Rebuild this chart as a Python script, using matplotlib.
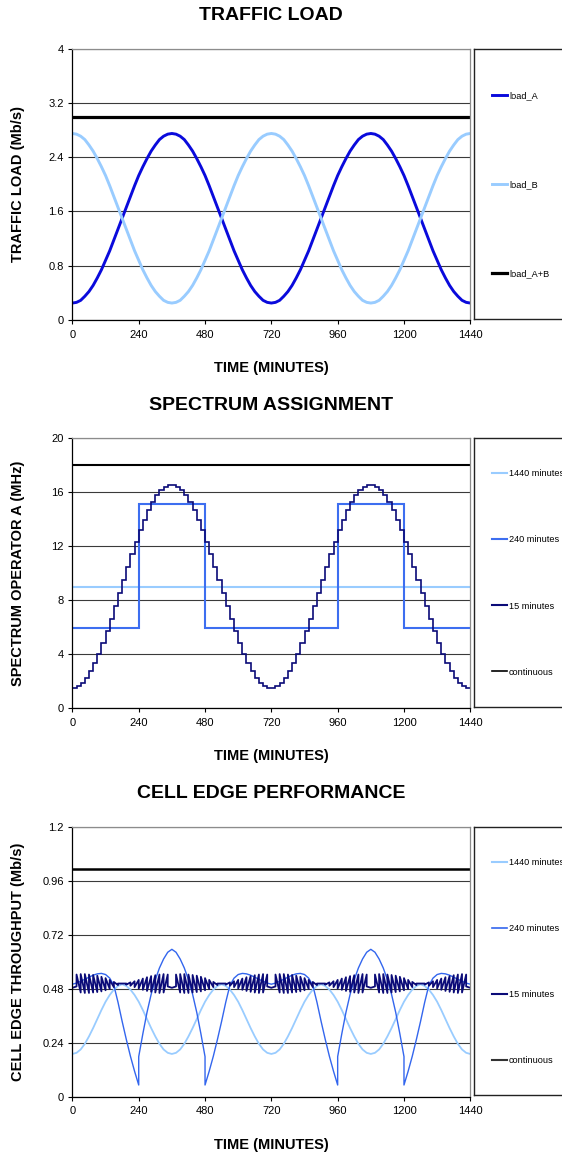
import numpy as np
import matplotlib
matplotlib.use('Agg')
import matplotlib.pyplot as plt
from matplotlib.lines import Line2D

plt.rcParams['font.family'] = ['Liberation Sans', 'DejaVu Sans']

# ---------------- data ----------------
t_15 = np.arange(0, 1441, 15)          # 15 minute grid (97 points)
x_ticks = [0, 240, 480, 720, 960, 1200, 1440]

# traffic load (Mb/s), every 15 min
load_A = [0.25, 0.26, 0.29, 0.35, 0.42, 0.51, 0.62, 0.74, 0.88, 1.02, 1.18, 1.34, 1.50,
          1.66, 1.82, 1.98, 2.13, 2.26, 2.38, 2.49, 2.58, 2.66, 2.71, 2.74, 2.75,
          2.74, 2.71, 2.66, 2.58, 2.49, 2.38, 2.26, 2.13, 1.98, 1.82, 1.66, 1.50,
          1.34, 1.18, 1.02, 0.88, 0.74, 0.62, 0.51, 0.42, 0.35, 0.29, 0.26, 0.25,
          0.26, 0.29, 0.35, 0.42, 0.51, 0.62, 0.74, 0.88, 1.02, 1.18, 1.34, 1.50,
          1.66, 1.82, 1.98, 2.13, 2.26, 2.38, 2.49, 2.58, 2.66, 2.71, 2.74, 2.75,
          2.74, 2.71, 2.66, 2.58, 2.49, 2.38, 2.26, 2.13, 1.98, 1.82, 1.66, 1.50,
          1.34, 1.18, 1.02, 0.88, 0.74, 0.62, 0.51, 0.42, 0.35, 0.29, 0.26, 0.25]
load_B = [2.75, 2.74, 2.71, 2.66, 2.58, 2.49, 2.38, 2.26, 2.13, 1.98, 1.82, 1.66, 1.50,
          1.34, 1.18, 1.02, 0.88, 0.74, 0.62, 0.51, 0.42, 0.35, 0.29, 0.26, 0.25,
          0.26, 0.29, 0.35, 0.42, 0.51, 0.62, 0.74, 0.88, 1.02, 1.18, 1.34, 1.50,
          1.66, 1.82, 1.98, 2.13, 2.26, 2.38, 2.49, 2.58, 2.66, 2.71, 2.74, 2.75,
          2.74, 2.71, 2.66, 2.58, 2.49, 2.38, 2.26, 2.13, 1.98, 1.82, 1.66, 1.50,
          1.34, 1.18, 1.02, 0.88, 0.74, 0.62, 0.51, 0.42, 0.35, 0.29, 0.26, 0.25,
          0.26, 0.29, 0.35, 0.42, 0.51, 0.62, 0.74, 0.88, 1.02, 1.18, 1.34, 1.50,
          1.66, 1.82, 1.98, 2.13, 2.26, 2.38, 2.49, 2.58, 2.66, 2.71, 2.74, 2.75]
load_AB = [3.0, 3.0]
t_ends = [0, 1440]

# spectrum operator A (MHz)
spec_15 = [1.52, 1.64, 1.90, 2.27, 2.76, 3.36, 4.05, 4.83, 5.68, 6.59, 7.54, 8.51,
           9.49, 10.46, 11.41, 12.32, 13.17, 13.95, 14.64, 15.24, 15.73, 16.10, 16.36, 16.48,
           16.48, 16.36, 16.10, 15.73, 15.24, 14.64, 13.95, 13.17, 12.32, 11.41, 10.46, 9.49,
           8.51, 7.54, 6.59, 5.68, 4.83, 4.05, 3.36, 2.76, 2.27, 1.90, 1.64, 1.52,
           1.52, 1.64, 1.90, 2.27, 2.76, 3.36, 4.05, 4.83, 5.68, 6.59, 7.54, 8.51,
           9.49, 10.46, 11.41, 12.32, 13.17, 13.95, 14.64, 15.24, 15.73, 16.10, 16.36, 16.48,
           16.48, 16.36, 16.10, 15.73, 15.24, 14.64, 13.95, 13.17, 12.32, 11.41, 10.46, 9.49,
           8.51, 7.54, 6.59, 5.68, 4.83, 4.05, 3.36, 2.76, 2.27, 1.90, 1.64, 1.52]
edges_240 = [0, 240, 480, 720, 960, 1200, 1440]
spec_240 = [5.95, 15.1, 5.95, 5.95, 15.1, 5.95]
spec_1440 = [9.0]
spec_cont = [18.0]

# cell edge throughput (Mb/s)
cell_1440 = [0.19, 0.195, 0.21, 0.235, 0.268, 0.305, 0.345, 0.385, 0.422, 0.452, 0.476, 0.492, 0.50,
             0.492, 0.476, 0.452, 0.422, 0.385, 0.345, 0.305, 0.268, 0.235, 0.21, 0.195, 0.19,
             0.195, 0.21, 0.235, 0.268, 0.305, 0.345, 0.385, 0.422, 0.452, 0.476, 0.492, 0.50,
             0.492, 0.476, 0.452, 0.422, 0.385, 0.345, 0.305, 0.268, 0.235, 0.21, 0.195, 0.19,
             0.195, 0.21, 0.235, 0.268, 0.305, 0.345, 0.385, 0.422, 0.452, 0.476, 0.492, 0.50,
             0.492, 0.476, 0.452, 0.422, 0.385, 0.345, 0.305, 0.268, 0.235, 0.21, 0.195, 0.19,
             0.195, 0.21, 0.235, 0.268, 0.305, 0.345, 0.385, 0.422, 0.452, 0.476, 0.492, 0.50,
             0.492, 0.476, 0.452, 0.422, 0.385, 0.345, 0.305, 0.268, 0.235, 0.21, 0.195, 0.19]

# 240 minute curve jumps at the reassignment instants
t_240 = sorted(list(range(0, 1441, 15)) + [240, 480, 960, 1200])
cell_240 = [0.50, 0.505, 0.513, 0.522, 0.531, 0.540, 0.546, 0.548, 0.543, 0.527, 0.495, 0.42,
            0.335, 0.255, 0.18, 0.113, 0.052, 0.178, 0.28, 0.375, 0.455, 0.52, 0.572, 0.612,
            0.642, 0.655, 0.642, 0.612, 0.572, 0.52, 0.455, 0.375, 0.28, 0.178, 0.052, 0.113,
            0.18, 0.255, 0.335, 0.42, 0.495, 0.527, 0.543, 0.548, 0.546, 0.540, 0.531, 0.522,
            0.513, 0.505, 0.50,
            0.505, 0.513, 0.522, 0.531, 0.540, 0.546, 0.548, 0.543, 0.527, 0.495, 0.42,
            0.335, 0.255, 0.18, 0.113, 0.052, 0.178, 0.28, 0.375, 0.455, 0.52, 0.572, 0.612,
            0.642, 0.655, 0.642, 0.612, 0.572, 0.52, 0.455, 0.375, 0.28, 0.178, 0.052, 0.113,
            0.18, 0.255, 0.335, 0.42, 0.495, 0.527, 0.543, 0.548, 0.546, 0.540, 0.531, 0.522,
            0.513, 0.505, 0.50]

# 15 minute curve: value at start and end of every 15 minute slot
saw_start = [0.484, 0.543, 0.545, 0.545, 0.543, 0.541, 0.538, 0.533, 0.527, 0.519, 0.510, 0.503,
             0.503, 0.498, 0.493, 0.487, 0.481, 0.475, 0.470, 0.466, 0.463, 0.461, 0.463, 0.490,
             0.484, 0.543, 0.545, 0.545, 0.543, 0.541, 0.538, 0.533, 0.527, 0.519, 0.510, 0.503,
             0.503, 0.498, 0.493, 0.487, 0.481, 0.475, 0.470, 0.466, 0.463, 0.461, 0.463, 0.490,
             0.484, 0.543, 0.545, 0.545, 0.543, 0.541, 0.538, 0.533, 0.527, 0.519, 0.510, 0.503,
             0.503, 0.498, 0.493, 0.487, 0.481, 0.475, 0.470, 0.466, 0.463, 0.461, 0.463, 0.490,
             0.484, 0.543, 0.545, 0.545, 0.543, 0.541, 0.538, 0.533, 0.527, 0.519, 0.510, 0.503,
             0.503, 0.498, 0.493, 0.487, 0.481, 0.475, 0.470, 0.466, 0.463, 0.461, 0.463, 0.490]
saw_end = [0.490, 0.463, 0.461, 0.461, 0.463, 0.465, 0.468, 0.473, 0.479, 0.487, 0.496, 0.503,
           0.503, 0.508, 0.513, 0.519, 0.525, 0.531, 0.536, 0.540, 0.543, 0.545, 0.543, 0.484,
           0.490, 0.463, 0.461, 0.461, 0.463, 0.465, 0.468, 0.473, 0.479, 0.487, 0.496, 0.503,
           0.503, 0.508, 0.513, 0.519, 0.525, 0.531, 0.536, 0.540, 0.543, 0.545, 0.543, 0.484,
           0.490, 0.463, 0.461, 0.461, 0.463, 0.465, 0.468, 0.473, 0.479, 0.487, 0.496, 0.503,
           0.503, 0.508, 0.513, 0.519, 0.525, 0.531, 0.536, 0.540, 0.543, 0.545, 0.543, 0.484,
           0.490, 0.463, 0.461, 0.461, 0.463, 0.465, 0.468, 0.473, 0.479, 0.487, 0.496, 0.503,
           0.503, 0.508, 0.513, 0.519, 0.525, 0.531, 0.536, 0.540, 0.543, 0.545, 0.543, 0.484]
cell_cont = [1.012, 1.012]

# ---------------- figure ----------------
W, H = 562, 1155
fig = plt.figure(figsize=(W / 100, H / 100), dpi=100)

left_px, right_px = 72.4, 470.3
box_left_px = 474.3


def panel(top_px, bot_px, title, ylabel, yticks):
    ax = fig.add_axes([left_px / W, 1 - bot_px / H, (right_px - left_px) / W, (bot_px - top_px) / H])
    h = bot_px - top_px
    ax.set_xlim(0, 1440)
    ax.set_ylim(yticks[0], yticks[-1])
    ax.set_xticks(x_ticks)
    ax.set_yticks(yticks)
    ax.set_yticklabels(['%g' % v for v in yticks])
    ax.grid(axis='y', color='#3a3a3a', lw=0.8)
    ax.set_axisbelow(True)
    for s in ['left', 'bottom']:
        ax.spines[s].set_color('black')
        ax.spines[s].set_linewidth(0.9)
    for s in ['top', 'right']:
        ax.spines[s].set_color('#8c8c8c')
        ax.spines[s].set_linewidth(0.9)
    ax.tick_params(axis='x', direction='out', length=3, width=0.8, labelsize=8, pad=4)
    ax.tick_params(axis='y', direction='out', length=3, width=0.8, labelsize=8, pad=3)
    ax.set_title(title, fontsize=14, fontweight='bold', y=1 + 32.7 / h, va='center', pad=0)
    ax.set_xlabel('TIME (MINUTES)', fontsize=10.5, fontweight='bold', va='center')
    ax.xaxis.set_label_coords(0.5, -48 / h)
    ax.set_ylabel(ylabel, fontsize=10.5, fontweight='bold', va='center')
    ax.yaxis.set_label_coords((18 - left_px) / (right_px - left_px), 0.5)

    lax = fig.add_axes([box_left_px / W, 1 - (bot_px - 1.5) / H, 0.2, (bot_px - 1.5 - top_px) / H])
    lax.set_xticks([])
    lax.set_yticks([])
    lax.patch.set_alpha(0)
    for s in lax.spines.values():
        s.set_color('#222222')
        s.set_linewidth(1.0)
    return ax, lax


def legend(lax, handles, labels, top_px, bot_px):
    n = len(labels)
    step = (bot_px - top_px) / n
    lax.legend(handles, labels, loc='center left',
               bbox_to_anchor=(491.7 / W, 1 - (top_px + bot_px) / 2 / H),
               bbox_transform=fig.transFigure, frameon=False, fontsize=6.6,
               handlelength=1.7, handletextpad=0.2, borderaxespad=0, borderpad=0,
               labelspacing=(step - 10.5) / 9.17)


# TRAFFIC LOAD
top, bot = 48.7, 320.0
ax1, lax1 = panel(top, bot, 'TRAFFIC LOAD', 'TRAFFIC LOAD (Mb/s)', [0, 0.8, 1.6, 2.4, 3.2, 4])
la, = ax1.plot(t_15, load_A, color='#0a0adc', lw=2.1)
lb, = ax1.plot(t_15, load_B, color='#99ccff', lw=2.1)
lab, = ax1.plot(t_ends, load_AB, color='black', lw=2.3)
legend(lax1, [la, lb, lab], ['load_A', 'load_B', 'load_A+B'], top, bot)

# SPECTRUM ASSIGNMENT
top, bot = 437.7, 708.3
ax2, lax2 = panel(top, bot, 'SPECTRUM ASSIGNMENT', 'SPECTRUM OPERATOR A (MHz)', [0, 4, 8, 12, 16, 20])
ax2.stairs(spec_1440, t_ends, baseline=None, color='#99ccff', lw=1.5)
ax2.stairs(spec_240, edges_240, baseline=None, color='#3d6ef0', lw=1.5)
ax2.stairs(spec_15, t_15, baseline=None, color='#0b0b78', lw=1.2)
ax2.stairs(spec_cont, t_ends, baseline=None, color='black', lw=1.5)
h2 = [Line2D([], [], color='#99ccff', lw=1.5), Line2D([], [], color='#3d6ef0', lw=1.5),
      Line2D([], [], color='#0b0b78', lw=1.5), Line2D([], [], color='black', lw=1.2)]
legend(lax2, h2, ['1440 minutes', '240 minutes', '15 minutes', 'continuous'], top, bot)

# CELL EDGE PERFORMANCE
top, bot = 826.7, 1096.7
ax3, lax3 = panel(top, bot, 'CELL EDGE PERFORMANCE', 'CELL EDGE THROUGHPUT (Mb/s)',
                  [0, 0.24, 0.48, 0.72, 0.96, 1.2])
ax3.plot(t_15, cell_1440, color='#99ccff', lw=1.3)
ax3.plot(t_240, cell_240, color='#3366ee', lw=1.0)
saw_t = np.column_stack([t_15[:-1], t_15[1:]]).ravel()
saw_v = np.column_stack([saw_start, saw_end]).ravel()
ax3.plot(saw_t, saw_v, color='#0b0b78', lw=1.3)
ax3.plot(t_ends, cell_cont, color='black', lw=1.8)
h3 = [Line2D([], [], color='#99ccff', lw=1.5), Line2D([], [], color='#3366ee', lw=1.2),
      Line2D([], [], color='#0b0b78', lw=1.5), Line2D([], [], color='#333333', lw=1.5)]
legend(lax3, h3, ['1440 minutes', '240 minutes', '15 minutes', 'continuous'], top, bot)

fig.savefig('out.png', dpi=100)
